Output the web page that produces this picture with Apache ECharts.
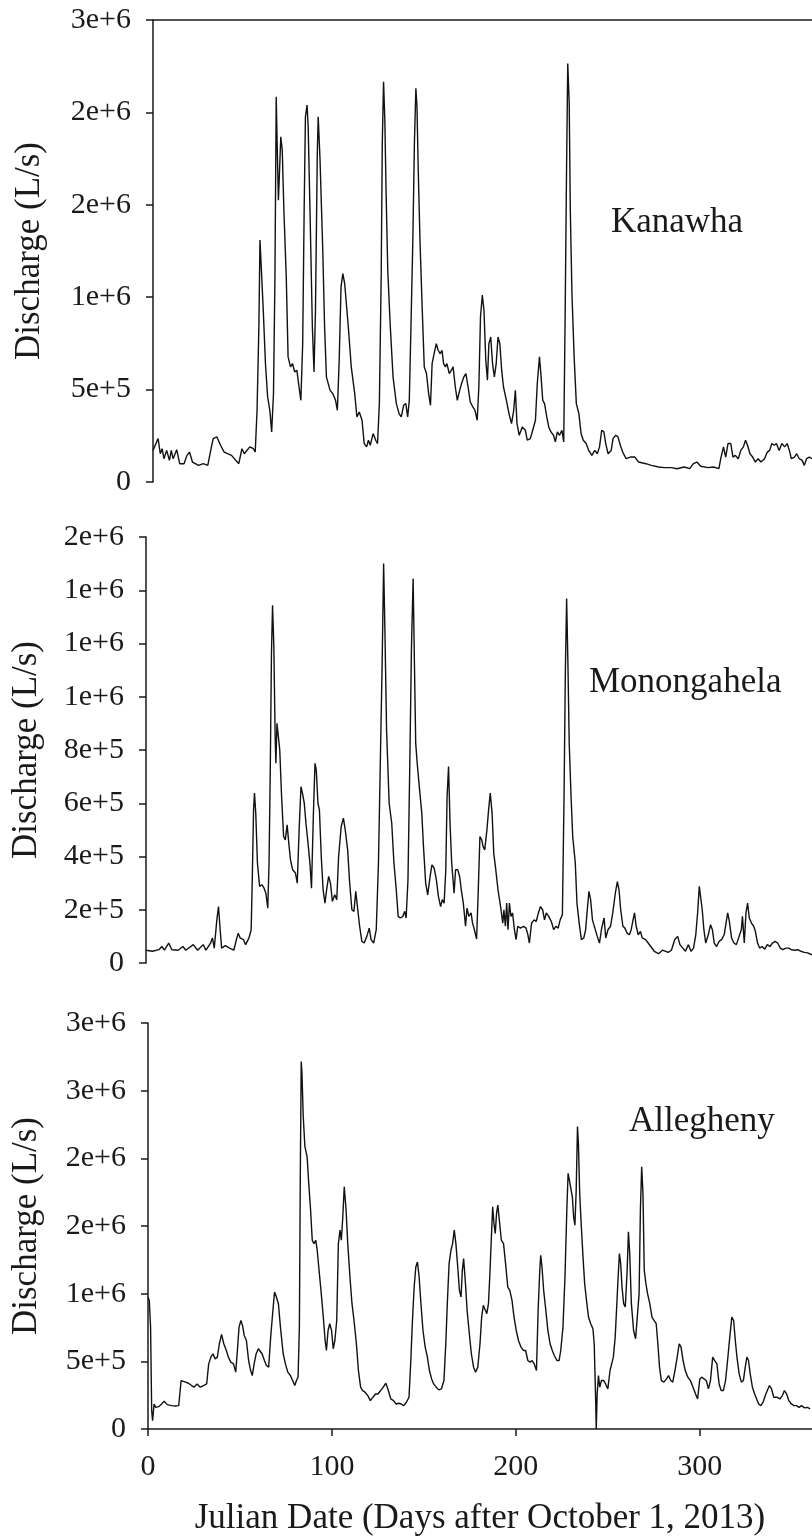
<!DOCTYPE html>
<html>
<head>
<meta charset="utf-8">
<script src="https://cdn.jsdelivr.net/npm/echarts@6/dist/echarts.min.js"></script>
<style>
html,body{margin:0;padding:0;background:#fff;}
#chart{width:812px;height:1540px;}
</style>
</head>
<body>
<div id="chart"></div>
<script>
// ---- data: [day after Oct 1 2013, discharge L/s] ----
const riverNames = ['Kanawha', 'Monongahela', 'Allegheny'];
const xTicks = [0, 100, 200, 300];
const yTickMax = [2500000, 1600000, 3000000];
const yTickStep = [500000, 200000, 500000];
const xAxisTitle = 'Julian Date (Days after October 1, 2013)';
const yAxisTitle = 'Discharge (L/s)';

const kanawha = [
[0,171000],[2.8,235000],[4,153000],[5,180000],[6,126000],[7.5,171000],[9,117000],[10,171000],[11,126000],[13,175000],[14.6,99000],[17,99000],[18.6,144000],[20,162000],[21.6,108000],[25,90000],[27.5,99000],[30,90000],[32,190000],[33,235000],[35,244000],[37,199000],[39,162000],[43,144000],[47,99000],[48.7,180000],[50,153000],[53,190000],[55,180000],[56,162000],[57,388000],[58,839000],[58.6,1309000],[59.3,1164000],[60.4,930000],[61.6,641000],[62.8,460000],[64,388000],[65,271000],[66,478000],[66.8,1110000],[67.5,2085000],[68.2,1742000],[68.7,1525000],[69.4,1706000],[70,1868000],[70.8,1796000],[71.7,1471000],[73,1110000],[74,677000],[75.3,623000],[76.4,641000],[77.6,596000],[78.8,605000],[80,514000],[81,442000],[82,749000],[82.8,1471000],[83.5,1976000],[84.4,2040000],[85,1922000],[86,1471000],[87.3,839000],[88.2,596000],[89,930000],[90,1778000],[90.5,1976000],[91.5,1742000],[93,1254000],[94,839000],[95,569000],[97,496000],[98.5,478000],[100,442000],[101,388000],[102,659000],[103,1056000],[104,1128000],[105,1074000],[107,839000],[108.6,623000],[110.5,478000],[111.7,352000],[113,379000],[114.5,334000],[115.7,208000],[117,190000],[118,226000],[119,199000],[120.6,262000],[122,226000],[123,208000],[124,424000],[125,1110000],[125.6,1832000],[126.3,2166000],[127,1958000],[127.7,1561000],[128.6,1146000],[130,839000],[131.5,569000],[133.3,424000],[134.8,370000],[136,352000],[137.3,415000],[138.5,424000],[139.5,352000],[140.4,442000],[141.3,839000],[142.3,1291000],[143.2,1832000],[144,2130000],[144.6,2031000],[145.3,1688000],[146.3,1291000],[147.5,930000],[148.6,623000],[149.8,587000],[151,478000],[152,415000],[152.9,641000],[154,695000],[155.2,749000],[156.2,713000],[157.3,695000],[158.3,713000],[159.2,641000],[160.2,623000],[161,641000],[162.3,587000],[163.5,605000],[164.4,623000],[165.6,514000],[166.7,442000],[168,496000],[169,532000],[170.3,569000],[171.4,587000],[172.6,514000],[173.8,433000],[175.2,406000],[176.4,388000],[177.6,334000],[178.5,514000],[179.4,893000],[180.4,1011000],[181.3,930000],[182.3,659000],[183.2,551000],[184,749000],[185,785000],[186,641000],[187,569000],[188,641000],[189,785000],[190,749000],[191,605000],[192,514000],[193.6,442000],[195,370000],[196.4,316000],[197.6,388000],[198.5,496000],[199.4,316000],[200.6,253000],[202.3,298000],[204,280000],[205,226000],[206.7,235000],[208,280000],[209.5,334000],[210.5,532000],[211.7,677000],[212.6,569000],[213.5,442000],[214.5,424000],[215.7,352000],[216.8,298000],[218,271000],[219.4,253000],[220.4,217000],[221.5,271000],[222.7,253000],[224,280000],[225,217000],[225.8,930000],[226.5,1652000],[227.2,2265000],[228,2049000],[228.6,1471000],[229.5,1020000],[230.7,677000],[231.9,424000],[233.3,370000],[234.5,262000],[235.7,226000],[237.3,208000],[238.7,171000],[240.4,144000],[242,171000],[243.4,153000],[244.6,190000],[245.8,280000],[247,271000],[248,208000],[249.3,153000],[251,171000],[252,235000],[253.5,253000],[254.7,244000],[256,199000],[257.3,162000],[259.2,126000],[261.5,135000],[264,135000],[266,108000],[270,99000],[273,90000],[277,81000],[280,78000],[284,78000],[287,72000],[291,81000],[294,72000],[296,99000],[298,108000],[300,85000],[304,78000],[307,81000],[310,72000],[311,126000],[312.5,190000],[313.7,135000],[315,208000],[316.5,208000],[317.7,135000],[319,144000],[320.6,126000],[322,171000],[323.4,190000],[324.6,226000],[325.7,199000],[327,153000],[328.5,135000],[330,108000],[331.5,126000],[333,108000],[335,126000],[336.5,162000],[337.8,171000],[339,208000],[340.4,199000],[341.5,208000],[343,171000],[344.5,208000],[346,190000],[347.4,208000],[348.6,171000],[349.7,126000],[351.4,135000],[352.6,153000],[354,126000],[355.6,117000],[356.8,90000],[358,126000],[359.6,135000],[361,126000]
];

const monongahela = [
[0,48000],[1,48000],[3.5,44000],[7,50000],[8.6,62000],[10,48000],[12.3,75000],[14,50000],[17.4,48000],[20,62000],[21.6,48000],[25.6,69000],[28,48000],[31,69000],[32.5,48000],[35,75000],[36,94000],[37,56000],[38.4,162000],[39.3,212000],[40.2,125000],[41,56000],[43,65000],[45.3,56000],[47.6,48000],[49,88000],[50,112000],[51,94000],[52.8,88000],[54,69000],[55.8,94000],[57,125000],[57.6,312000],[58.3,575000],[58.8,638000],[59.5,562000],[60.4,375000],[61.6,288000],[62.8,294000],[64,281000],[65,262000],[66,206000],[66.7,375000],[67.4,750000],[68,1162000],[68.6,1344000],[69.3,1188000],[70,850000],[70.4,750000],[71,900000],[71.8,900000],[72.5,800000],[73.5,625000],[74.6,475000],[75.5,462000],[76.5,519000],[77.4,450000],[78.3,388000],[79.5,350000],[81,338000],[82,300000],[83,500000],[84,662000],[84.8,638000],[85.8,600000],[86.7,525000],[88,438000],[89,362000],[89.7,281000],[90.7,550000],[91.6,750000],[92.3,725000],[93.2,600000],[94,575000],[95,400000],[96,275000],[97,225000],[97.9,275000],[99,325000],[100,300000],[101,231000],[102.3,256000],[103.4,238000],[104.4,400000],[105.8,512000],[107,544000],[108,500000],[109.3,425000],[110.4,300000],[111.6,200000],[112.7,194000],[113.7,269000],[114.6,212000],[115.8,138000],[117,81000],[118.3,75000],[119.7,100000],[121,131000],[122,88000],[123.4,75000],[124.8,125000],[126,375000],[127,750000],[128,1125000],[128.8,1500000],[129.5,1250000],[130.4,875000],[131.8,600000],[133.2,525000],[134.4,375000],[135.5,288000],[136.7,175000],[137.8,169000],[139.2,175000],[140.2,194000],[141,169000],[142,312000],[143,750000],[143.9,1188000],[144.8,1444000],[145.5,1125000],[146.2,825000],[147,750000],[148.3,650000],[149.5,562000],[150.4,438000],[151.6,300000],[152.7,256000],[154,325000],[155,369000],[156.2,356000],[157.4,312000],[158.5,250000],[159.7,212000],[160.6,238000],[161.6,225000],[162.5,350000],[163.2,625000],[164,738000],[164.8,525000],[165.7,375000],[167,262000],[167.8,350000],[169,350000],[170,325000],[170.9,275000],[172,225000],[173.2,138000],[174,206000],[175,175000],[176.2,188000],[177,150000],[178,125000],[179.2,90000],[180,250000],[181,475000],[182,462000],[182.7,438000],[183.6,425000],[184.8,500000],[185.7,575000],[186.6,638000],[187.6,562000],[188.5,412000],[189.4,362000],[190.8,275000],[192.2,212000],[193.4,150000],[194,200000],[194.8,138000],[195.5,225000],[196.2,125000],[197,225000],[197.8,175000],[198.7,188000],[199.7,125000],[200.6,88000],[201.5,138000],[203,131000],[204.6,138000],[206,131000],[207,106000],[207.8,75000],[209,150000],[210.4,162000],[211.5,156000],[212.7,188000],[213.8,212000],[215,200000],[216,162000],[217,188000],[218.3,175000],[219.7,156000],[221,125000],[222.2,138000],[223.4,131000],[224.5,162000],[225.7,181000],[226.6,625000],[227.3,1088000],[228,1369000],[228.7,1125000],[229.4,825000],[230.4,625000],[231.3,475000],[232.7,375000],[233.6,225000],[234.8,150000],[236,88000],[237.3,94000],[238.3,125000],[239.2,200000],[240.1,269000],[241,238000],[242,162000],[243.3,131000],[244.6,100000],[245.8,75000],[247,131000],[248.3,169000],[249.2,94000],[250.4,125000],[251.8,138000],[253,188000],[254.4,262000],[255.5,306000],[256.4,275000],[257.3,200000],[258.5,138000],[259.6,131000],[260.8,112000],[262,106000],[263,125000],[264,162000],[264.8,188000],[265.7,138000],[266.8,106000],[268,119000],[269,94000],[270.8,88000],[272.2,75000],[273.6,62000],[275.5,44000],[277.8,35000],[280,48000],[283,40000],[284.8,48000],[286.6,88000],[288.2,100000],[289.4,69000],[291,56000],[292.4,44000],[294,69000],[295.4,44000],[296.8,56000],[298,106000],[299,188000],[299.9,288000],[300.6,288000],[301.5,200000],[302.4,125000],[303.4,75000],[304.8,106000],[306,144000],[307,125000],[308,75000],[309.3,62000],[310.6,81000],[312,88000],[313.4,106000],[314.4,150000],[315.3,188000],[316.2,156000],[317.4,94000],[318.7,75000],[320,69000],[321.5,100000],[322.7,125000],[323.3,175000],[324.3,75000],[325.2,188000],[326.1,225000],[327,169000],[328.2,150000],[329.4,138000],[330.3,119000],[331.5,75000],[332.6,56000],[334,62000],[335.4,52000],[336.8,69000],[338.2,62000],[339.6,75000],[341,81000],[342.4,75000],[343.8,56000],[345.2,50000],[346.8,56000],[348.4,56000],[349.8,50000],[351.7,48000],[353.3,50000],[355,44000],[356.8,40000],[358.6,38000],[361,31000]
];

const allegheny = [
[0,975000],[0.7,950000],[1.4,753000],[2,136000],[2.5,62000],[3.3,185000],[4.2,160000],[5.8,165000],[7.4,185000],[8.8,205000],[10.5,180000],[12.8,173000],[15,170000],[16.7,173000],[18,358000],[19,370000],[20.5,346000],[22,338000],[23.7,321000],[25,309000],[26.7,333000],[28.4,309000],[30.2,321000],[31.9,333000],[33,481000],[34.2,531000],[35.3,556000],[36.5,518000],[37.7,531000],[38.8,630000],[40,699000],[41.2,630000],[42.6,580000],[43.7,531000],[45,494000],[46.5,481000],[47.7,420000],[48.6,580000],[49.5,753000],[50.5,802000],[51.4,765000],[52.3,691000],[53.5,654000],[54.7,506000],[55.8,432000],[56.7,395000],[57.7,481000],[58.8,556000],[60,593000],[60.9,605000],[62,556000],[63.3,506000],[64.4,469000],[65.6,457000],[66.7,679000],[67.9,876000],[68.8,1012000],[69.8,975000],[70.9,926000],[72,753000],[73.5,556000],[74.7,481000],[76,420000],[77.4,395000],[78.6,358000],[79.8,321000],[80.7,358000],[81.6,383000],[82.3,753000],[82.8,1864000],[83.3,2716000],[83.7,2630000],[84.4,2309000],[85.3,2086000],[86.5,2012000],[87.4,1815000],[88.4,1617000],[89.3,1395000],[90.2,1370000],[91.2,1395000],[92,1321000],[93,1173000],[94.2,1000000],[95.3,827000],[96.3,654000],[97,580000],[97.9,728000],[98.8,778000],[99.8,728000],[100.7,593000],[101.6,654000],[102.6,802000],[103.5,1370000],[104.4,1469000],[105.1,1395000],[105.8,1543000],[106.7,1790000],[107.7,1617000],[108.6,1370000],[109.8,1123000],[110.9,926000],[112,802000],[113.3,630000],[114.4,432000],[115.6,309000],[116.7,284000],[118,272000],[119.5,247000],[120.9,210000],[122.3,235000],[123.7,259000],[125,259000],[126.5,284000],[127.9,309000],[129.3,338000],[130.7,284000],[132,222000],[133.5,210000],[134.9,185000],[136.3,190000],[137.7,185000],[139,173000],[140.5,198000],[141.9,235000],[142.8,481000],[143.7,778000],[144.7,1049000],[145.6,1197000],[146.5,1234000],[147.4,1123000],[148.4,926000],[149.5,728000],[150.7,605000],[151.9,531000],[153,432000],[154.2,370000],[155.3,333000],[156.7,309000],[158.1,289000],[159.5,296000],[160.9,358000],[161.9,630000],[162.8,951000],[163.7,1222000],[164.7,1321000],[165.6,1370000],[166.5,1469000],[167.4,1370000],[168.4,1197000],[169.3,1025000],[170.2,975000],[170.9,1173000],[171.6,1259000],[172.6,1074000],[173.5,876000],[174.7,704000],[175.8,556000],[177,457000],[178.1,420000],[179.3,457000],[180.5,630000],[181.4,827000],[182.3,914000],[183.3,901000],[184.2,852000],[185.1,926000],[185.8,1123000],[186.7,1420000],[187.4,1642000],[188.1,1518000],[188.8,1444000],[189.5,1593000],[190.2,1654000],[191.2,1518000],[192.1,1395000],[193.3,1370000],[194.4,1222000],[195.6,1049000],[196.7,1025000],[197.9,951000],[199,827000],[200.2,728000],[201.4,654000],[202.8,605000],[204.2,580000],[205.3,580000],[206.5,506000],[207.7,494000],[208.8,506000],[210,481000],[211.2,432000],[212.1,876000],[213,1173000],[213.5,1284000],[214.2,1197000],[215.1,1025000],[216.3,876000],[217.4,728000],[218.6,630000],[219.8,580000],[220.9,543000],[222.3,506000],[223.5,506000],[224.4,580000],[225.6,753000],[226.7,1123000],[227.7,1617000],[228.4,1889000],[229.1,1839000],[230,1839000],[230.7,1716000],[231.4,1568000],[232.1,1506000],[232.8,1765000],[233.5,2235000],[234,2111000],[234.7,1741000],[235.6,1494000],[236.5,1272000],[237.4,1074000],[238.6,926000],[239.5,827000],[240.7,778000],[241.9,741000],[242.6,630000],[243.3,259000],[243.7,0],[244.2,259000],[244.9,395000],[245.6,309000],[246.5,358000],[247.7,358000],[248.8,333000],[250,296000],[251.2,432000],[252.1,481000],[253,531000],[254,679000],[254.9,926000],[255.6,1123000],[256.3,1296000],[257,1222000],[257.7,1049000],[258.6,926000],[259.5,901000],[260.5,1173000],[261.2,1457000],[261.9,1296000],[262.8,926000],[264,728000],[265.1,667000],[266,679000],[267,1000000],[267.7,1617000],[268.4,1938000],[269.1,1741000],[269.8,1173000],[270.7,1074000],[271.6,1000000],[272.8,926000],[274,827000],[275.1,802000],[276.3,778000],[277.2,630000],[278.1,457000],[279.1,358000],[280.5,346000],[281.9,370000],[283,395000],[284.2,358000],[285.3,346000],[286.5,432000],[287.7,531000],[288.8,630000],[289.8,605000],[290.9,506000],[292.1,432000],[293.5,383000],[294.9,358000],[296.3,309000],[297.7,259000],[298.8,222000],[300,370000],[301.2,383000],[302.3,370000],[303.5,358000],[304.7,296000],[305.8,358000],[307,531000],[308.1,506000],[309.3,481000],[310.5,333000],[311.6,284000],[312.8,284000],[314,358000],[315.1,506000],[316.3,679000],[317.4,827000],[318.4,802000],[319.3,654000],[320.2,531000],[321.4,407000],[322.6,346000],[323.7,358000],[324.7,457000],[325.6,531000],[326.5,506000],[327.4,407000],[328.6,309000],[329.8,259000],[330.9,222000],[332,185000],[333.2,173000],[334.4,198000],[335.6,247000],[336.7,284000],[337.9,321000],[339,296000],[340.2,235000],[341.9,235000],[343.5,222000],[344.9,247000],[346,284000],[347.2,259000],[348.4,210000],[349.8,185000],[351.2,173000],[352.6,173000],[354,160000],[355.3,173000],[357,156000],[358.6,160000],[360,148000]
];

const seriesData = [kanawha, monongahela, allegheny];

// ---- layout ----
const FONT = 'Liberation Serif';
const INK = '#1a1a1a';
const grids = [
  { left: 153, top: 20, right: 0, height: 462 },
  { left: 146, top: 537, right: 0, height: 426 },
  { left: 148, top: 1023, right: 0, height: 406 }
];
const nameGaps = [106, 102, 104];
const panelLabelPos = [
  { left: 611, top: 205 },
  { left: 589, top: 665 },
  { left: 629, top: 1104 }
];

function fmtY(v) {
  if (v === 0) return '0';
  return Number(v).toExponential(0);
}

const xAxes = grids.map((g, i) => {
  const base = {
    gridIndex: i, type: 'value', min: 0, max: 361,
    splitLine: { show: false }
  };
  if (i === 0) {
    return Object.assign(base, {
      position: 'top',
      axisLine: { show: true, onZero: false, lineStyle: { color: INK, width: 1.5 } },
      axisTick: { show: false }, axisLabel: { show: false }
    });
  }
  if (i === 1) {
    return Object.assign(base, {
      axisLine: { show: false, onZero: false }, axisTick: { show: false }, axisLabel: { show: false }
    });
  }
  return Object.assign(base, {
    position: 'bottom',
    name: xAxisTitle, nameLocation: 'middle', nameGap: 72,
    nameTextStyle: { fontFamily: FONT, fontSize: 35, color: INK },
    axisLine: { show: true, onZero: false, lineStyle: { color: INK, width: 1.5 } },
    axisTick: { show: true, length: 7, customValues: xTicks, lineStyle: { color: INK, width: 1.5 } },
    axisLabel: { show: true, customValues: xTicks, margin: 23,
      fontFamily: FONT, fontSize: 30, color: INK }
  });
});

const yAxes = grids.map((g, i) => ({
  gridIndex: i, type: 'value', min: 0, max: yTickMax[i], interval: yTickStep[i],
  name: yAxisTitle, nameLocation: 'middle', nameGap: nameGaps[i], nameRotate: 90,
  nameTextStyle: { fontFamily: FONT, fontSize: 35, color: INK },
  splitLine: { show: false },
  axisLine: { show: true, onZero: false, lineStyle: { color: INK, width: 1.5 } },
  axisTick: { show: true, length: 7, lineStyle: { color: INK, width: 1.5 } },
  axisLabel: { formatter: fmtY, margin: 22, fontFamily: FONT, fontSize: 30, color: INK }
}));

const option = {
  animation: false,
  backgroundColor: '#ffffff',
  title: riverNames.map((n, i) => ({
    text: n, left: panelLabelPos[i].left, top: panelLabelPos[i].top, padding: 0,
    textStyle: { fontFamily: FONT, fontSize: 35, fontWeight: 'normal', color: INK }
  })),
  grid: grids,
  xAxis: xAxes,
  yAxis: yAxes,
  series: seriesData.map((d, i) => ({
    type: 'line', name: riverNames[i], xAxisIndex: i, yAxisIndex: i,
    data: d, showSymbol: false, symbol: 'none', smooth: false,
    lineStyle: { color: '#111', width: 1.4 }
  }))
};

const chart = echarts.init(document.getElementById('chart'), null, { renderer: 'canvas' });
chart.setOption(option);
</script>
</body>
</html>
